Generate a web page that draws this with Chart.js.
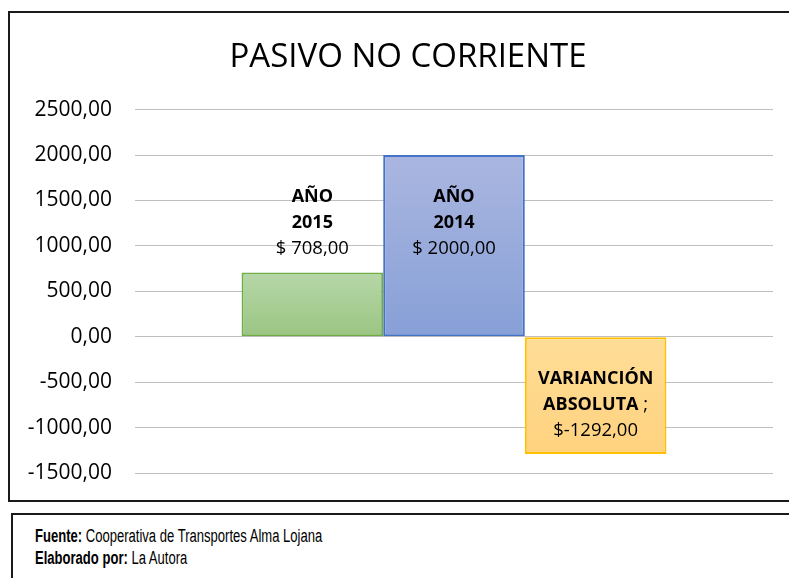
<!DOCTYPE html>
<html>
<head>
<meta charset="utf-8">
<script src="https://cdn.jsdelivr.net/npm/chart.js@4"></script>
<style>
  body { margin: 0; background: #fff; width: 789px; height: 578px; overflow: hidden; position: relative; }
  #chartBox { position: absolute; left: 8px; top: 11px; width: 800px; height: 491px; border: 2px solid #1a1a1a; box-sizing: border-box; background: #fff; }
  #chartBox canvas { display: block; }
  #fuente { position: absolute; left: 11px; top: 513px; width: 800px; height: 80px; border: 2px solid #1a1a1a; box-sizing: border-box;
    font-family: "Liberation Sans Narrow", "Arial Narrow", "Liberation Sans", sans-serif;
    font-size: 18px; line-height: 22px; color: #000; padding: 10px 0 0 22px; }
  #fuente div { transform: scaleX(0.725); transform-origin: left; white-space: nowrap; }
</style>
</head>
<body>
<div id="chartBox"><canvas id="grafico" width="796" height="487"></canvas></div>
<div id="fuente"><div><b>Fuente:</b> Cooperativa de Transportes Alma Lojana</div><div><b>Elaborado por:</b> La Autora</div></div>
<script>
// datos del gráfico
const categorias = [['AÑO', '2015'], ['AÑO', '2014'], ['VARIANCIÓN', 'ABSOLUTA']];
const valores = [708, 2000, -1292];
const separadores = ['', '', ' ;'];
const ticksY = [-1500, -1000, -500, 0, 500, 1000, 1500, 2000, 2500];

const colores = [
    { arriba: '#b6d7a8', abajo: '#9bc583', borde: '#70ad47' },
    { arriba: '#aab6e0', abajo: '#87a0d7', borde: '#4472c4' },
    { arriba: '#ffdd98', abajo: '#ffd27e', borde: '#ffc000' }
];

const fuente = '"Open Sans", sans-serif';

function formato(v) {
    return (v < 0 ? '$' : '$ ') + v.toFixed(2).replace('.', ',');
}

function degradado(i) {
    return function(ctx) {
        const chart = ctx.chart;
        if (!chart.chartArea || !chart.scales.y) return colores[i].abajo;
        const y = chart.scales.y;
        const v = valores[i];
        const t = y.getPixelForValue(Math.max(v, 0));
        const b = y.getPixelForValue(Math.min(v, 0));
        const g = chart.ctx.createLinearGradient(0, t, 0, b);
        g.addColorStop(0, colores[i].arriba);
        g.addColorStop(1, colores[i].abajo);
        return g;
    };
}

// etiquetas de datos dentro/encima de las barras
const etiquetas = {
    id: 'etiquetas',
    afterDatasetsDraw(chart) {
        const ctx = chart.ctx;
        const negrita = 'bold 18px ' + fuente;
        const normal = '18.5px ' + fuente;
        ctx.save();
        ctx.textAlign = 'center';
        ctx.textBaseline = 'middle';
        ctx.fillStyle = '#000';
        chart.data.datasets.forEach((ds, i) => {
            const el = chart.getDatasetMeta(i).data[0];
            const alto = 26;
            const arriba = Math.min(el.y, el.base);
            // la barra pequeña lleva la etiqueta encima
            let y0 = i === 0 ? el.y - 24 - 2 * alto : arriba + 42;
            const lineas = categorias[i];
            lineas.forEach((txt, k) => {
                const yy = y0 + k * alto;
                ctx.font = negrita;
                if (k === lineas.length - 1 && separadores[i]) {
                    const w1 = ctx.measureText(txt).width;
                    ctx.font = normal;
                    const w2 = ctx.measureText(separadores[i]).width;
                    const x0 = el.x - (w1 + w2) / 2;
                    ctx.textAlign = 'left';
                    ctx.font = negrita;
                    ctx.fillText(txt, x0, yy);
                    ctx.font = normal;
                    ctx.fillText(separadores[i], x0 + w1, yy);
                    ctx.textAlign = 'center';
                } else {
                    ctx.fillText(txt, el.x, yy);
                }
            });
            ctx.font = normal;
            ctx.fillText(formato(valores[i]), el.x, y0 + lineas.length * alto);
        });
        ctx.restore();
    }
};

document.addEventListener('DOMContentLoaded', function() {
    const ctx = document.getElementById('grafico');
    new Chart(ctx, {
        type: 'bar',
        data: {
            labels: [''],
            datasets: valores.map((v, i) => ({
                label: categorias[i].join(' '),
                data: [v],
                backgroundColor: degradado(i),
                borderColor: colores[i].borde,
                borderWidth: 2,
                borderSkipped: false,
                categoryPercentage: 0.666,
                barPercentage: 1
            }))
        },
        options: {
            responsive: false,
            animation: false,
            layout: { padding: { left: 0, right: 0, top: 0, bottom: 27 } },
            plugins: {
                legend: { display: false },
                tooltip: { enabled: false },
                title: {
                    display: true,
                    text: 'PASIVO NO CORRIENTE',
                    color: '#000',
                    font: { family: fuente, size: 33, weight: 'normal', lineHeight: 1.2 },
                    padding: { top: 25, bottom: 32 }
                }
            },
            scales: {
                x: { display: false },
                y: {
                    min: ticksY[0],
                    max: ticksY[ticksY.length - 1],
                    afterBuildTicks(scale) { scale.ticks = ticksY.map(v => ({ value: v })); },
                    afterFit(scale) {
                        scale.width = 125;
                        scale.paddingTop = 0;
                        scale.paddingBottom = 0;
                    },
                    border: { display: false },
                    grid: { color: '#bfbfbf', lineWidth: 1, drawTicks: false },
                    ticks: {
                        padding: 23,
                        color: '#000',
                        font: { family: fuente, size: 21 },
                        callback: v => v.toFixed(2).replace('.', ',')
                    }
                },
                // eje vacío a la derecha, solo para dejar el margen
                margenDer: {
                    type: 'linear',
                    position: 'right',
                    border: { display: false },
                    grid: { display: false },
                    ticks: { display: false },
                    afterFit(scale) {
                        scale.width = 33;
                        scale.paddingTop = 0;
                        scale.paddingBottom = 0;
                    }
                }
            }
        },
        plugins: [etiquetas]
    });
});
</script>
</body>
</html>
